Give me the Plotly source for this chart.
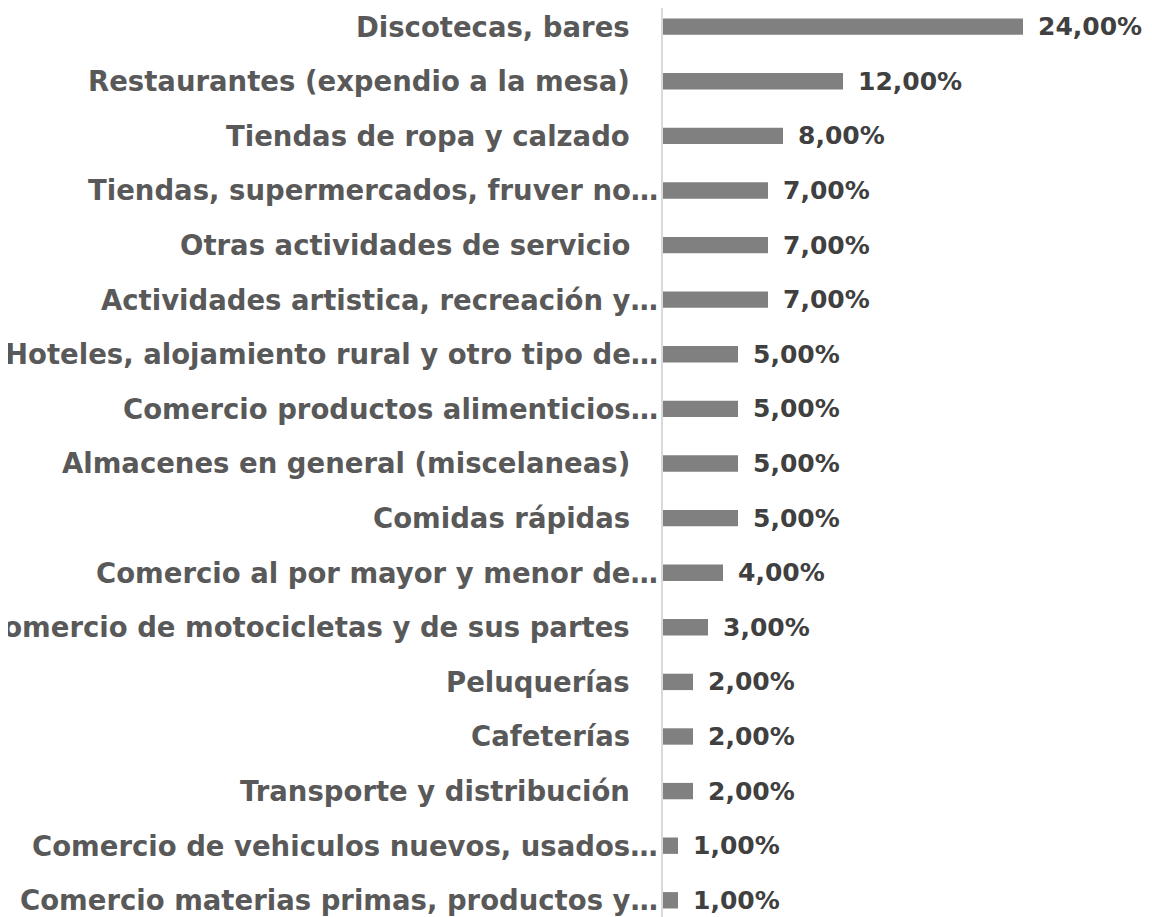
import plotly.graph_objects as go

categories = [
    "Discotecas, bares",
    "Restaurantes (expendio a la mesa)",
    "Tiendas de ropa y calzado",
    "Tiendas, supermercados, fruver no…",
    "Otras actividades de servicio",
    "Actividades artistica, recreación y…",
    "Hoteles, alojamiento rural y otro tipo de…",
    "Comercio productos alimenticios…",
    "Almacenes en general (miscelaneas)",
    "Comidas rápidas",
    "Comercio al por mayor y menor de…",
    "Comercio de motocicletas y de sus partes",
    "Peluquerías",
    "Cafeterías",
    "Transporte y distribución",
    "Comercio de vehiculos nuevos, usados…",
    "Comercio materias primas, productos y…",
]
values = [24, 12, 8, 7, 7, 7, 5, 5, 5, 5, 4, 3, 2, 2, 2, 1, 1]
value_labels = [f"{v:.2f}".replace(".", ",") + "%" for v in values]

FONT = "DejaVu Sans"
BAR_COLOR = "#808080"
CAT_COLOR = "#595959"
VAL_COLOR = "#404040"

fig = go.Figure(
    go.Bar(
        x=values,
        y=categories,
        orientation="h",
        marker=dict(color=BAR_COLOR, line=dict(width=0)),
        width=0.30,
        hoverinfo="skip",
    )
)

annotations = []
for cat, v, lab in zip(categories, values, value_labels):
    annotations.append(dict(
        x=v, y=cat, xref="x", yref="y", text=lab, showarrow=False,
        xanchor="left", yanchor="middle", xshift=13,
        font=dict(family=FONT, size=25, color=VAL_COLOR, weight=700),
    ))
    truncated = cat.endswith("…")
    annotations.append(dict(
        x=0, y=cat, xref="x", yref="y", text=cat, showarrow=False,
        xanchor="right", yanchor="middle", xshift=-3 if truncated else -31,
        font=dict(family=FONT, size=27.5, color=CAT_COLOR, weight=700),
    ))

fig.update_layout(
    width=1144,
    height=909,
    margin=dict(l=655, r=0, t=0, b=0, pad=0),
    paper_bgcolor="white",
    plot_bgcolor="white",
    showlegend=False,
    annotations=annotations,
    xaxis=dict(range=[0, 489 / 15], visible=False, showgrid=False, zeroline=False),
    yaxis=dict(
        type="category",
        categoryorder="array",
        categoryarray=categories,
        range=[16.306, -0.342],
        showticklabels=False,
        showgrid=False,
        zeroline=False,
        ticks="",
        showline=True,
        linecolor="#d9d9d9",
        linewidth=1.5,
    ),
)

fig.write_html("out.html")
